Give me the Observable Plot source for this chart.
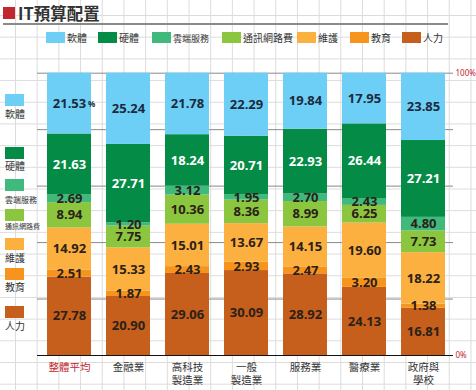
<!DOCTYPE html>
<html><head><meta charset="utf-8">
<script src="https://cdn.jsdelivr.net/npm/d3@7"></script>
<script src="https://cdn.jsdelivr.net/npm/@observablehq/plot@0.6"></script>
<style>
body{margin:0;}
#wrap{position:relative;width:476px;height:390px;overflow:hidden;background-color:#fff;
background-image:linear-gradient(to right,#dcdcdc 1px,transparent 1px),linear-gradient(to bottom,#dcdcdc 1px,transparent 1px);
background-size:21.7px 21.7px;background-position:15px 15px;font-family:"Noto Sans CJK TC","Noto Sans",sans-serif;}
.abs{position:absolute;}
.sw{position:absolute;width:19px;height:11px;}
.lb{position:absolute;color:#333;white-space:nowrap;line-height:1;transform:translateY(-50%);}
#chart{position:absolute;left:0;top:0;}
</style></head>
<body><div id="wrap"><div id="chart"></div></div>
<script>
const categories = ["整體平均","金融業","高科技\n製造業","一般\n製造業","服務業","醫療業","政府與\n學校"];
const seriesNames = ["人力","教育","維護","通訊網路費","雲端服務","硬體","軟體"]; // bottom to top
const seriesColors = ["#c65f1c","#f7941d","#fbb03f","#8cc63f","#3fb97c","#048b45","#6dcff6"];
const software = [21.53,25.24,21.78,22.29,19.84,17.95,23.85];
const hardware = [21.63,27.71,18.24,20.71,22.93,26.44,27.21];
const cloud    = [2.69,1.20,3.12,1.95,2.70,2.43,4.80];
const network  = [8.94,7.75,10.36,8.36,8.99,6.25,7.73];
const maintain = [14.92,15.33,15.01,13.67,14.15,19.60,18.22];
const education= [2.51,1.87,2.43,2.93,2.47,3.20,1.38];
const manpower = [27.78,20.90,29.06,30.09,28.92,24.13,16.81];
const yTicks = [20,40,60,80,100];

const seriesValues = {"人力":manpower,"教育":education,"維護":maintain,"通訊網路費":network,"雲端服務":cloud,"硬體":hardware,"軟體":software};
const data = [];
categories.forEach((c,i)=>seriesNames.forEach(s=>data.push({cat:c, series:s, value:seriesValues[s][i]})));

const numFont = "'Open Sans', sans-serif";
const stackOpts = {x:"cat", y:"value", z:"series", order: seriesNames};
const numText = (pred) => (d => pred(d) ? d.value.toFixed(2) : "");

const plot = Plot.plot({
  width:476, height:390,
  marginLeft:45, marginRight:29, marginTop:72.7, marginBottom:35,
  style:{background:"none", overflow:"visible"},
  x:{domain:categories, paddingInner:0.26, paddingOuter:0, axis:null},
  y:{domain:[0,100], axis:null},
  color:{domain:seriesNames, range:seriesColors},
  marks:[
    Plot.ruleY(yTicks,{stroke:"#8a8a8a", strokeWidth:1, insetLeft:-8, insetRight:-6}),
    Plot.barY(data, Plot.stackY({...stackOpts, fill:"series"})),
    Plot.text(data, Plot.stackY({...stackOpts, text:numText(d=>d.series==="軟體"), fill:"#1b2a3d", fontSize:13, fontWeight:"bold", fontFamily:numFont})),
    Plot.text(data, Plot.stackY({...stackOpts, text:numText(d=>d.series!=="軟體" && d.series!=="硬體"), fill:"#2b2118", fontSize:13, fontWeight:"bold", fontFamily:numFont})),
    Plot.text(data, Plot.stackY({...stackOpts, text:numText(d=>d.series==="硬體"), fill:"white", fontSize:13, fontWeight:"bold", fontFamily:numFont})),
    Plot.text(data, Plot.stackY({...stackOpts, text:d=>(d.series==="軟體" && d.cat===categories[0]) ? "%" : "", fill:"#1b2a3d", fontSize:8, fontWeight:"bold", dx:22, dy:1, fontFamily:numFont})),
    Plot.ruleY([0],{stroke:"#111", strokeWidth:1.2, insetLeft:-8, insetRight:-6}),
    Plot.text([100,0],{y:d=>d, frameAnchor:"right", textAnchor:"start", dx:8, text:d=>d+"%", fill:"#c1272d", fontSize:8}),
    Plot.text(categories.slice(0,1),{x:d=>d, frameAnchor:"bottom", lineAnchor:"top", dy:7, text:d=>d, fill:"#c1272d", fontSize:10.5, lineHeight:1.2, fontFamily:"Noto Sans CJK TC"}),
    Plot.text(categories.slice(1),{x:d=>d, frameAnchor:"bottom", lineAnchor:"top", dy:7, text:d=>d, fill:"#333", fontSize:10.5, lineHeight:1.2, fontFamily:"Noto Sans CJK TC"})
  ]
});
document.getElementById("chart").appendChild(plot);

const wrap = document.getElementById("wrap");
function add(html){ wrap.insertAdjacentHTML("beforeend", html); }
// title
add(`<div class="abs" style="left:3px;top:7px;width:12px;height:12px;background:#c1272d"></div>`);
add(`<div class="abs" style="left:18px;top:2px;font-size:16.5px;font-weight:bold;color:#333;line-height:22px;">IT預算配置</div>`);
add(`<div class="abs" style="left:3px;top:23px;width:445px;height:2px;background:#8a8a8a"></div>`);
// top legend (top to bottom order of stack)
const topOrder = ["軟體","硬體","雲端服務","通訊網路費","維護","教育","人力"];
const topSwX = [46,98,152,222,297,350,402];
const topFs = [10,10,9,10,10,10,10];
topOrder.forEach((s,i)=>{
  const col = seriesColors[seriesNames.indexOf(s)];
  add(`<div class="sw" style="left:${topSwX[i]}px;top:32px;background:${col}"></div>`);
  add(`<div class="lb" style="left:${topSwX[i]+21}px;top:38px;font-size:${topFs[i]}px">${s}</div>`);
});
// left legend
const leftSwY = [94,147,179,209,238,268,306];
const leftLbY = [114,166,200,226,258,287,326];
const leftFs = [10,10,8,7,10,10,10];
topOrder.forEach((s,i)=>{
  const col = seriesColors[seriesNames.indexOf(s)];
  add(`<div class="sw" style="left:5px;top:${leftSwY[i]}px;height:12px;background:${col}"></div>`);
  add(`<div class="lb" style="left:5px;top:${leftLbY[i]}px;font-size:${leftFs[i]}px">${s}</div>`);
});
</script></body></html>
